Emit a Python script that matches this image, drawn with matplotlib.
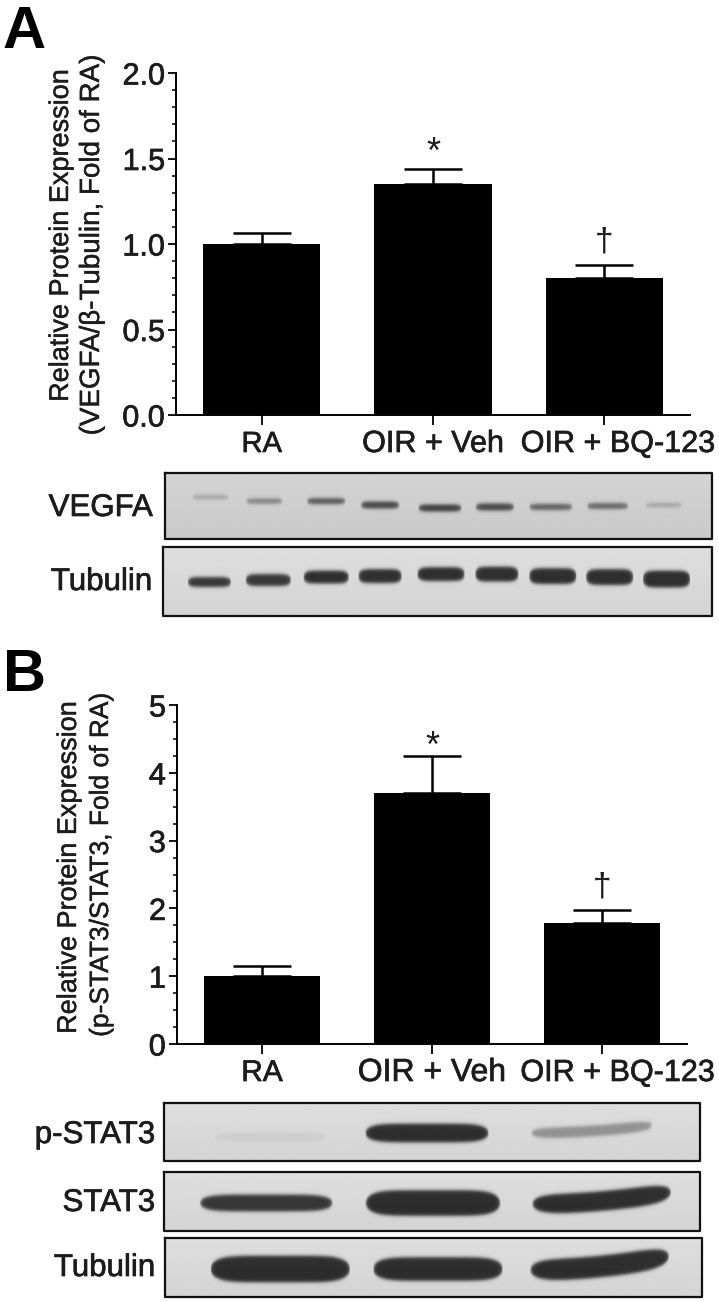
import numpy as np
import matplotlib
matplotlib.use("Agg")
import matplotlib.pyplot as plt
import matplotlib.patheffects as pe
from matplotlib.ticker import MultipleLocator

plt.rcParams['font.family'] = ['Liberation Sans', 'DejaVu Sans']

W, H = 719, 1302

# ---- bar data
groups = ["RA", "OIR + Veh", "OIR + BQ-123"]
vegfa_mean = [1.0, 1.35, 0.80]
vegfa_err = [0.065, 0.09, 0.08]
stat3_mean = [1.0, 3.7, 1.78]
stat3_err = [0.15, 0.55, 0.19]
marks = ["", "*", "†"]

# ---- blot bands: x centre, y centre, width, height, darkness, rise across band
vegfa_x = [210, 264, 326, 380, 440, 495, 551, 608, 664]
vegfa_y = [497, 501, 501, 505, 508, 507, 507, 506, 505]
vegfa_w = [37, 37, 39, 39, 44, 39, 44, 42, 37]
vegfa_h = [4, 5, 6, 7, 7, 7, 6, 6, 4]
vegfa_d = [0.3, 0.5, 0.75, 0.85, 0.9, 0.85, 0.7, 0.65, 0.3]

tub_x = [209, 268, 326, 380, 441, 497, 553, 610, 667]
tub_y = [582, 580, 577, 576, 574, 574, 576, 577, 579]
tub_w = [44, 46, 46, 44, 48, 44, 48, 48, 48]
tub_h = [10, 12, 13, 14, 14, 15, 16, 16, 17]
tub_d = [0.95, 0.95, 1.0, 1.0, 1.0, 1.0, 1.0, 1.0, 1.0]

pstat_x = [270, 427, 592]
pstat_y = [1137, 1133, 1129]
pstat_w = [112, 124, 122]
pstat_h = [9, 19, 11]
pstat_d = [0.06, 1.0, 0.42]
pstat_r = [0, 0, 8]

stat_x = [266, 433, 602]
stat_y = [1203, 1203, 1198]
stat_w = [133, 135, 139]
stat_h = [17, 26, 20]
stat_d = [0.95, 1.0, 1.0]
stat_r = [0, 0, 12]

tubb_x = [280, 438, 600]
tubb_y = [1269, 1269, 1263]
tubb_w = [140, 130, 139]
tubb_h = [27, 24, 22]
tubb_d = [1.0, 1.0, 1.0]
tubb_r = [0, 0, 14]

INK = "#1c1c1c"
SOFT = [pe.withStroke(linewidth=0.5, foreground=INK)]
THIN = [pe.withStroke(linewidth=0.3, foreground=INK)]


def blot(ax_bg, box, xs, ys, ws, hs, ds, rs=None, bg=0.87):
    """Paint one blot strip as a small greyscale image with soft bands."""
    x0, x1, y0, y1 = box
    xx, yy = np.meshgrid(np.arange(x0, x1 + 1), np.arange(y0, y1 + 1))
    # background is a touch darker near the bottom
    img = np.full(xx.shape, bg, dtype=float) - 0.04 * (yy - y0) / (y1 - y0)
    rs = rs or [0] * len(xs)
    for x, y, w, h, d, r in zip(xs, ys, ws, hs, ds, rs):
        u = np.clip((xx - x) / (w / 2), -1, 1)
        t = (u + 1) / 2
        # curve up to the right when r > 0
        yc = y + r / 2 - r * t ** 2
        half = h / 2 * (1 - u ** 6) ** 0.5 + 0.01
        sx = 0.5 * (np.tanh((xx - (x - w / 2)) / 2.5) - np.tanh((xx - (x + w / 2)) / 2.5))
        sy = 0.5 * (np.tanh((yy - (yc - half)) / 2.0) - np.tanh((yy - (yc + half)) / 2.0))
        img -= (bg - 0.2) * d * sx * sy
    ax_bg.imshow(img, cmap="gray", vmin=0, vmax=1, extent=(x0, x1, y1, y0),
                 aspect="auto", interpolation="bilinear", zorder=1)
    ax_bg.plot([x0, x1, x1, x0, x0], [y0, y0, y1, y1, y0], color="#111111", lw=1.6, zorder=2)


def bar_panel(rect, means, errs, ylim, major, minor, fmt, mark_pad, label_dx, label_fs):
    l, t, r, b = rect
    ax = fig.add_axes([l / W, 1 - b / H, (r - l) / W, (b - t) / H])
    x = np.arange(len(means))
    ax.bar(x, means, width=0.684, color="black", zorder=2)
    ax.errorbar(x, means, yerr=[np.zeros(len(errs)), errs], fmt="none", ecolor="black",
                elinewidth=1.8, capsize=21, capthick=1.8, zorder=1)
    for xi, m, e, s in zip(x, means, errs, marks):
        if s:
            ax.text(xi, m + e + mark_pad[s], s, ha="center", va="center",
                    fontsize=26 if s == "*" else 24, color=INK)
    ax.set_xlim(-0.5, 2.5)
    ax.set_ylim(*ylim)
    ax.set_xticks(x)
    ax.set_xticklabels([])
    for xi, g, dx, fs in zip(x, groups, label_dx, label_fs):
        ax.annotate(g, xy=(xi, 0), xycoords=("data", "axes fraction"),
                    xytext=(dx * 0.72, -29 * 0.72), textcoords="offset points",
                    ha="center", va="center", fontsize=fs, color=INK, path_effects=SOFT)
    ax.yaxis.set_major_locator(MultipleLocator(major))
    ax.yaxis.set_minor_locator(MultipleLocator(minor))
    ax.yaxis.set_major_formatter(fmt)
    ax.tick_params(axis="y", which="major", length=6, width=1.3, labelsize=22, pad=2, labelcolor=INK)
    ax.tick_params(axis="y", which="minor", length=3, width=1.1)
    ax.tick_params(axis="x", length=7, width=1.3)
    for lab in ax.get_yticklabels():
        lab.set_path_effects(SOFT)
    ax.spines["top"].set_visible(False)
    ax.spines["right"].set_visible(False)
    ax.spines["left"].set_linewidth(1.4)
    ax.spines["bottom"].set_linewidth(1.4)
    ax.patch.set_alpha(0)
    return ax


fig = plt.figure(figsize=(W / 100, H / 100), dpi=100, facecolor="white")

# pixel-space layer for blots and loose labels
bg = fig.add_axes([0, 0, 1, 1])
bg.axis("off")

blot(bg, (165, 712, 473, 539), vegfa_x, vegfa_y, vegfa_w, vegfa_h, vegfa_d, bg=0.83)
blot(bg, (163, 712, 547, 616), tub_x, tub_y, tub_w, tub_h, tub_d)
blot(bg, (164, 700, 1103, 1161), pstat_x, pstat_y, pstat_w, pstat_h, pstat_d, pstat_r)
blot(bg, (164, 700, 1172, 1231), stat_x, stat_y, stat_w, stat_h, stat_d, stat_r)
blot(bg, (165, 702, 1238, 1297), tubb_x, tubb_y, tubb_w, tubb_h, tubb_d, tubb_r)
bg.set_xlim(0, W)
bg.set_ylim(H, 0)

bar_panel((176, 73, 690, 415), vegfa_mean, vegfa_err, (0, 2), 0.5, 0.1, "{x:.1f}",
          {"*": 0.09, "†": 0.13}, [0, 0, 13.5], [21, 22, 22])
bar_panel((177, 705, 687, 1044), stat3_mean, stat3_err, (0, 5), 1, 0.25, "{x:.0f}",
          {"*": 0.12, "†": 0.34}, [0, 0, 15.5], [21.5, 23, 22])

# y axis titles, two lines at their own offsets
for s, x, y, fs in [("Relative Protein Expression", 61, 235, 19.5),
                    ("(VEGFA/β-Tubulin, Fold of RA)", 92, 245, 20),
                    ("Relative Protein Expression", 69, 867, 19.5),
                    ("(p-STAT3/STAT3, Fold of RA)", 101, 865, 19)]:
    bg.text(x, y, s, rotation=90, ha="center", va="center", fontsize=fs, color=INK, path_effects=THIN)

for s, x, y in [("VEGFA", 153, 508), ("Tubulin", 152, 582), ("p-STAT3", 155, 1135),
                ("STAT3", 155, 1203), ("Tubulin", 155, 1268)]:
    bg.text(x, y, s, ha="right", va="center", fontsize=22.5, color=INK, path_effects=SOFT)

bg.text(3, 48, "A", ha="left", va="baseline", fontsize=43, fontweight="bold", color="black")
bg.text(3, 691, "B", ha="left", va="baseline", fontsize=43, fontweight="bold", color="black")

fig.savefig("out.png", dpi=100)
